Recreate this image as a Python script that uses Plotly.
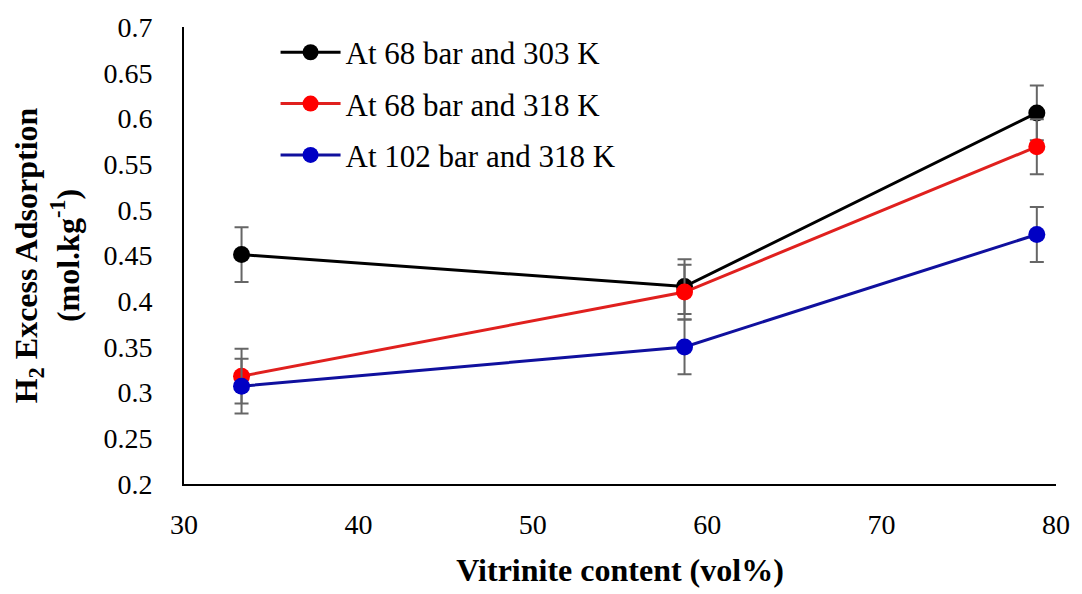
import plotly.graph_objects as go

# Vitrinite content of the three coal samples (vol%)
vitrinite = [33.3, 58.7, 78.9]

# H2 excess adsorption (mol/kg) for each pressure / temperature condition
ads_68bar_303K = [0.451, 0.416, 0.606]
ads_68bar_318K = [0.318, 0.410, 0.569]
ads_102bar_318K = [0.307, 0.350, 0.473]

# Measurement uncertainty (+/- mol/kg)
err_68bar_303K = [0.03, 0.03, 0.03]
err_68bar_318K = [0.03, 0.03, 0.03]
err_102bar_318K = [0.03, 0.03, 0.03]

series_names = ["At 68 bar and 303 K", "At 68 bar and 318 K", "At 102 bar and 318 K"]

y_ticks = [0.2, 0.25, 0.3, 0.35, 0.4, 0.45, 0.5, 0.55, 0.6, 0.65, 0.7]
y_tick_text = ["0.2", "0.25", "0.3", "0.35", "0.4", "0.45", "0.5", "0.55", "0.6", "0.65", "0.7"]
x_ticks = [30, 40, 50, 60, 70, 80]

SERIF = "Liberation Serif"

styles = [
    dict(line="#000000", marker="#000000"),
    dict(line="#E0201E", marker="#FF0000"),
    dict(line="#10109E", marker="#0000C4"),
]

fig = go.Figure()
for i, (name, ys, err) in enumerate(zip(
        series_names,
        [ads_68bar_303K, ads_68bar_318K, ads_102bar_318K],
        [err_68bar_303K, err_68bar_318K, err_102bar_318K])):
    fig.add_trace(go.Scatter(
        x=vitrinite, y=ys, name=name, mode="lines+markers",
        legendgroup=f"g{i}",
        line=dict(color=styles[i]["line"], width=3),
        marker=dict(color=styles[i]["marker"], size=17, line=dict(width=0)),
        error_y=dict(type="data", array=err, visible=True,
                     color="#666666", thickness=2, width=7),
    ))

fig.update_layout(
    width=1082, height=594,
    margin=dict(l=184, r=21, t=21, b=107),
    paper_bgcolor="white", plot_bgcolor="white",
    font=dict(family=SERIF, color="#000000", size=28),
    showlegend=True,
    legend=dict(
        x=0.105, y=1.003, xanchor="left", yanchor="top",
        bgcolor="rgba(0,0,0,0)", borderwidth=0,
        font=dict(family=SERIF, size=31, color="#000000"),
        itemwidth=60, tracegroupgap=8,
    ),
    xaxis=dict(
        range=[30, 80], tickvals=x_ticks, showgrid=False, zeroline=False,
        showline=True, linecolor="#000000", linewidth=2, ticks="",
        ticklabelstandoff=14,
        tickfont=dict(family=SERIF, size=28, color="#000000"),
        title=dict(text="<b>Vitrinite content (vol%)</b>", standoff=20,
                   font=dict(family=SERIF, size=32, color="#000000")),
    ),
    yaxis=dict(
        range=[0.2, 0.7], tickvals=y_ticks, ticktext=y_tick_text,
        showgrid=False, zeroline=False,
        showline=True, linecolor="#000000", linewidth=2, ticks="",
        ticklabelstandoff=24,
        tickfont=dict(family=SERIF, size=28, color="#000000"),
    ),
    annotations=[dict(
        text="<b>H<sub>2</sub> Excess Adsorption<br>(mol.kg<sup>-1</sup>)</b>",
        xref="paper", yref="paper", x=(46 - 184) / 877, y=0.5,
        xanchor="center", yanchor="middle", textangle=-90, showarrow=False,
        font=dict(family=SERIF, size=32, color="#000000"),
    )],
)

fig.write_html("out.html")
